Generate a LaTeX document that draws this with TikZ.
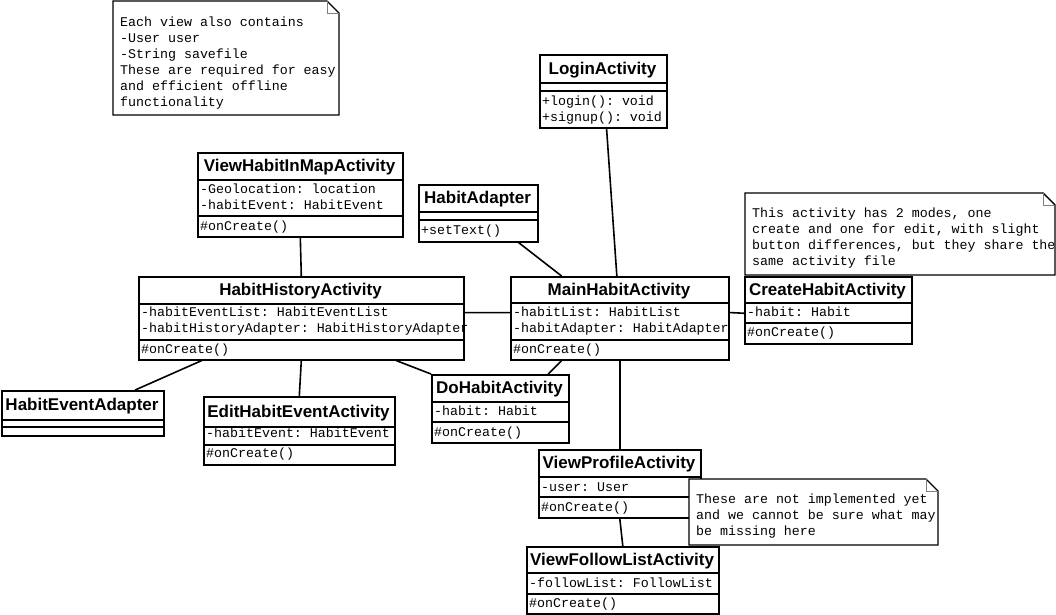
\documentclass[tikz,border=0pt]{standalone}
\usepackage{fontspec}
\setmonofont{Liberation Mono}
\newfontfamily\titlefont{Liberation Sans}
\usetikzlibrary{calc}

\tikzset{
  classframe/.style={draw, line width=1.6pt, fill=white, inner sep=0pt, anchor=north west},
  classname/.style={font=\titlefont\bfseries\fontsize{17}{16}\selectfont, inner sep=0pt, text height=12pt, text depth=3pt},
  member/.style={font=\ttfamily\fontsize{13.3}{16}\selectfont, inner sep=0pt, anchor=base west},
  notetext/.style={font=\ttfamily\fontsize{13.3}{16}\selectfont, inner sep=0pt, anchor=base west, align=left},
  noteframe/.style={draw, line width=1.4pt, fill=white},
  fold/.style={draw=gray, line width=0.8pt},
  link/.style={line width=1.6pt},
}

% name, left, top, right, bottom, title line, attribute line, class name
\newcommand{\umlclass}[8]{%
  \node[classframe, minimum width={(#4-#2)*1pt}, minimum height={(#5-#3)*1pt}] (#1) at (#2,#3) {};
  \draw[line width=1.6pt] (#2,#6) -- (#4,#6);
  \draw[line width=1.6pt] (#2,#7) -- (#4,#7);
  \node[classname] (#1-name) at ({(#2+#4)/2},{(#3+#6)/2+1}) {#8};
}
% left, top, right, bottom
\newcommand{\umlnote}[4]{%
  \path[noteframe] (#1,#2) -- ({#3-12},#2) -- (#3,{#2+12}) -- (#3,#4) -- (#1,#4) -- cycle;
  \draw[fold] ({#3-12},#2) -- ({#3-12},{#2+12}) -- (#3,{#2+12});
}

\begin{document}
\begin{tikzpicture}[x=1pt, y=-1pt]
  \useasboundingbox (0,0) rectangle (1056,614);

  % notes (text placed by the baseline of its last line)
  \umlnote{113}{1}{339}{115}
  \node[notetext] (note-view) at (120,106) {Each view also contains\\-User user\\-String savefile\\These are required for easy\\and efficient offline\\functionality};

  % classes
  \umlclass{login}{539}{54}{666}{127}{83}{91}{LoginActivity}
  \node[member] (login-m1) at (542,105) {+login(): void};
  \node[member] (login-m2) at (542,121) {+signup(): void};

  \umlclass{map}{197}{152}{402}{236}{180}{216}{ViewHabitInMapActivity}
  \node[member] (map-a1) at (200,193) {-Geolocation: location};
  \node[member] (map-a2) at (200,209) {-habitEvent: HabitEvent};
  \node[member] (map-m1) at (200,230) {\#onCreate()};

  \umlclass{adapter}{418}{184}{537}{241}{212}{220}{HabitAdapter}
  \node[member] (adapter-m1) at (421,234) {+setText()};

  \umlclass{history}{138}{276}{463}{359}{304}{340}{HabitHistoryActivity}
  \node[member] (history-a1) at (141,316) {-habitEventList: HabitEventList};
  \node[member] (history-a2) at (141,332) {-habitHistoryAdapter: HabitHistoryAdapter};
  \node[member] (history-m1) at (141,353) {\#onCreate()};

  \umlclass{main}{510}{276}{728}{359}{303}{340}{MainHabitActivity}
  \node[member] (main-a1) at (513,316) {-habitList: HabitList};
  \node[member] (main-a2) at (513,332) {-habitAdapter: HabitAdapter};
  \node[member] (main-m1) at (513,353) {\#onCreate()};

  \umlnote{745}{193}{1055}{275}
  \node[notetext] (note-create) at (752,265) {This activity has 2 modes, one\\create and one for edit, with slight\\button differences, but they share the\\same activity file};

  \umlclass{create}{744}{276}{911}{343}{303}{323}{CreateHabitActivity}
  \node[member] (create-a1) at (747,316) {-habit: Habit};
  \node[member] (create-m1) at (747,336) {\#onCreate()};

  \umlclass{eventadapter}{1}{390}{163}{435}{420}{427}{HabitEventAdapter}

  \umlclass{edit}{203}{396}{394}{464}{427}{445}{EditHabitEventActivity}
  \node[member] (edit-a1) at (206,437) {-habitEvent: HabitEvent};
  \node[member] (edit-m1) at (206,457) {\#onCreate()};

  \umlclass{dohabit}{431}{374}{568}{442}{402}{422}{DoHabitActivity}
  \node[member] (dohabit-a1) at (434,415) {-habit: Habit};
  \node[member] (dohabit-m1) at (434,436) {\#onCreate()};

  \umlclass{profile}{538}{449}{700}{517}{477}{497}{ViewProfileActivity}
  \node[member] (profile-a1) at (541,491) {-user: User};
  \node[member] (profile-m1) at (541,511) {\#onCreate()};

  \umlclass{follow}{526}{546}{718}{613}{573}{594}{ViewFollowListActivity}
  \node[member] (follow-a1) at (529,587) {-followList: FollowList};
  \node[member] (follow-m1) at (529,607) {\#onCreate()};

  \umlnote{689}{479}{938}{545}
  \node[notetext] (note-todo) at (696,535) {These are not implemented yet\\and we cannot be sure what may\\be missing here};

  % associations
  \draw[link] (login.-85) -- (main.94);
  \draw[link] (adapter.-36) -- (main.144);
  \draw[link] (map.south) -- (history.north);
  \draw[link] (history.2) -- (main.177);
  \draw[link] (main.3) -- (create.182);
  \draw[link] (history.-157) -- (eventadapter.24);
  \draw[link] (history.south) -- (edit.north);
  \draw[link] (history.-24) -- (dohabit.north west);
  \draw[link] (main.-144) -- (dohabit.36);
  \draw[link] (main.south) -- (profile.north);
  \draw[link] (profile.south) -- (follow.north);
\end{tikzpicture}
\end{document}
